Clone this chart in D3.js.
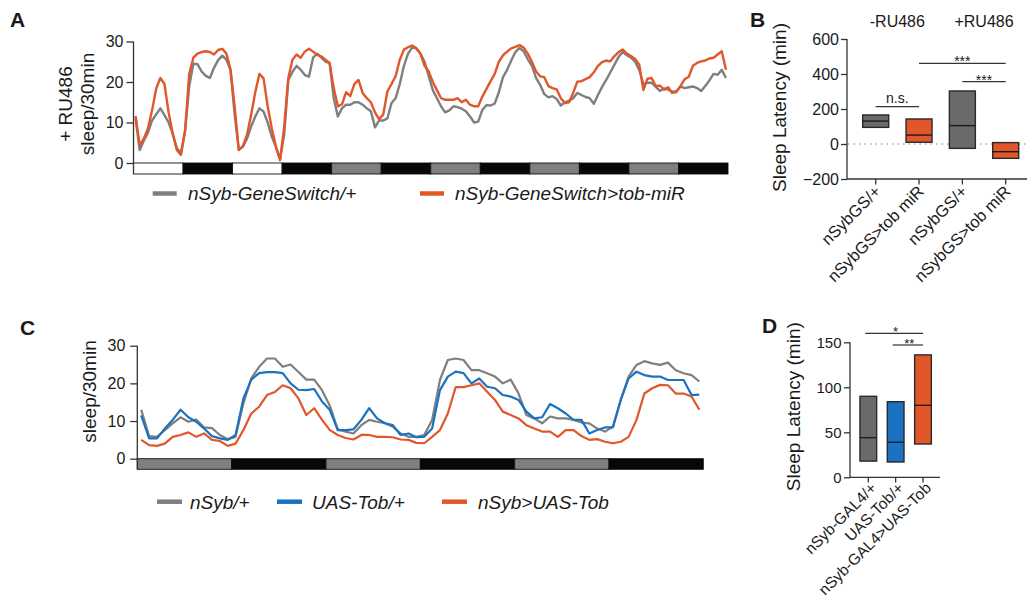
<!DOCTYPE html>
<html><head><meta charset="utf-8">
<script src="https://cdn.jsdelivr.net/npm/d3@7"></script>
<style>
body{margin:0;background:#fff}
svg{display:block}
text{font-family:"Liberation Sans",Arial,sans-serif;fill:#1a1a1a}
</style>
</head><body>
<svg id="chart" width="1029" height="602"></svg>
<script>
// ---------- DATA ----------
// Panel A: hourly sleep (min/30min), 6 days, 12h phases
const phasesA = ["L","D","L","D","S","D","S","D","S","D","S","D"];
const grayA = [
 11,3.2,5.5,7.5,10.5,12,13.5,11.8,10,7.2,3.6,2.5,
 8,19,24.5,24.4,22.6,21.5,21,23.5,25.4,26.5,25.5,23,
 12,3.3,4,6,9,11.5,13.5,12.7,10,6.5,4,1,
 7,20.5,22.5,24,23,21.7,21.3,26,27,26,25,24.7,
 16,11.5,13.5,14.4,14.4,15,15,14.4,13.5,12.8,8.8,10.5,
 10.5,11,14.8,16,19.5,24,27,28.5,28.3,27,25,21.5,
 18,16,14,12.5,13,14,13.8,13.4,12.8,11.5,10,10.2,
 13.1,14.3,14.2,14.7,17.5,21.2,23,25.3,27.4,28.4,27.6,25.6,
 24,21,19.3,17,16.2,16.5,15.8,14.2,15,15.4,16,17.3,
 16.8,16.3,16,14.6,16.8,18.8,20.5,22.4,24.3,26.2,27.4,26.6,
 26,25,23,19.5,19.8,19.8,18.8,17.8,18.4,18.1,17.6,17.7,
 18.9,18.5,18.7,18.9,18.5,17.8,19,20.4,22,21.8,23,21
];
const orangeA = [
 11.6,4.4,6.0,8.5,13,18.4,21,19.5,12.5,7.3,3.2,2.0,
 8,22,26,27,27.4,27.6,27.4,26.8,27.9,28.2,27,23,
 14,3.2,4.2,7,12,17.5,22,20.9,14,8.5,4,0.7,
 9,21,25.5,26.8,26,27.5,28.2,27.5,26.7,26.3,25.5,24.7,
 18.5,14,14.5,17.5,16.5,19.5,20.5,17.3,16,15,12.5,10.8,
 12,17.7,19.5,21.5,25.5,28,28.6,29,28.4,27,24,22.6,
 20,18,16,15.6,15.6,15.6,16,15,15.6,14.4,14,14,
 16.4,18.3,20.2,22,25,26.6,27.5,28.3,28.7,29.1,28.5,27,
 25,22.6,21.4,21.2,19,18.5,18.2,16,14.8,15,17.3,20.1,
 20.2,20.7,21.2,22.4,24,24.9,25.3,25.1,26.4,27.4,28,27,
 26.4,25.7,24.3,18,20.8,21,19,19.1,18.1,18.7,17.3,17.5,
 19,20.7,21.3,24,24.7,25.1,25.3,25.8,26,26.8,27.6,23
];
const legendA = ["nSyb-GeneSwitch/+","nSyb-GeneSwitch>tob-miR"];
const yTicksLine = [0,10,20,30];

// Panel B
const catsB = ["nSybGS/+","nSybGS>tob miR","nSybGS/+","nSybGS>tob miR"];
const lowB = [95,10,-25,-82];
const highB = [166,143,303,8];
const medB = [131,51,105,-44];
const colB = ["gray","orange","gray","orange"];
const groupsB = ["-RU486","+RU486"];
const yTicksB = [-200,0,200,400,600];

// Panel C: hourly sleep, 3 days
const phasesC = ["S","D","S","D","S","D"];
const grayC = [
 13,6,5.8,7.6,9.4,11,9.8,10.4,8.3,8.1,6.3,5.2,
 5.8,14.7,21.3,24.4,26.6,26.6,24.4,25,23,21,21,18.2,
 14,7.8,7.2,6.7,8.9,10.3,9.8,9.4,8.5,6.7,5.8,5.8,
 6.3,10.3,20.9,26.2,26.6,26.2,23.5,23.5,22.7,21.8,20,21,
 17.3,11.6,10.7,9.4,11.2,10.7,10.7,10.3,9.6,9.4,8,7.2,
 8.5,15.6,21.8,24.9,25.9,25.3,24.9,25.5,23.5,22.7,22.2,20.5
];
const blueC = [
 11.5,5.4,5.4,8,10.3,13,11,9.8,8,6,5.4,5,
 6.3,16,21,22.7,23,23,22.7,20,18.3,18.2,18.5,15.2,
 12.9,7.6,7.6,7.8,10.3,13.4,10.7,9.4,8.9,6.3,6.7,5.7,
 5.8,8,18.2,21.8,23.1,22.7,20,21.3,19.1,18.7,16.9,16.5,
 15.6,12.5,10.7,11,14.5,13.4,12,10.3,10.3,6.7,7.6,8.3,
 8.3,15.6,21.3,23.1,22.2,21.8,21.8,20.9,20.9,20.9,16.9,17
];
const orangeC = [
 5,3.6,3.4,4,5.8,6.3,7,5.8,6.7,5,4.7,3.4,
 4,7.6,12,13.8,16.9,17.7,19.5,18.7,16,11.6,13.4,10.3,
 7.6,6.3,5.5,5.1,6.3,6.3,5.8,5.8,5.7,5.1,5,4.2,
 4.1,5.8,7.6,12,19,19,19.5,20,17.8,15.6,12.5,11.6,
 10.7,8.9,8,7.2,7.2,5.8,7.6,7.6,6,5,5.2,4.5,
 4.1,4.5,5.8,10.3,17.3,18.7,19.6,19.5,17.3,17.3,16.5,13
];
const legendC = ["nSyb/+","UAS-Tob/+","nSyb>UAS-Tob"];

// Panel D
const catsD = ["nSyb-GAL4/+","UAS-Tob/+","nSyb-GAL4>UAS-Tob"];
const lowD = [18,17,37];
const highD = [90,84,136];
const medD = [44,39,80];
const colD = ["gray","blue","orange"];
const yTicksD = [0,50,100,150];

// ---------- STYLE ----------
const C = {gray:"#7f7f7f", orange:"#e2572a", blue:"#1a72c0", boxGray:"#6a6a6a", axis:"#333"};
const phaseFill = {L:"#ffffff", D:"#070707", S:"#7f7f7f"};
const svg = d3.select("#chart");

function styleAxis(g, fs){
  g.select(".domain").remove();
  g.selectAll(".tick line").attr("stroke",C.axis).attr("stroke-width",1.3);
  g.selectAll(".tick text").attr("font-size",fs).attr("fill","#1a1a1a")
   .style("font-family","'Liberation Sans',Arial,sans-serif");
}
function panelLabel(t,x,y){
  svg.append("text").attr("x",x).attr("y",y).attr("font-size",21).attr("font-weight","bold").text(t);
}
function rotLabel(lines,x,y,fs){
  lines.forEach(l=>{
    svg.append("text").attr("transform",`translate(${l.x},${y}) rotate(-90)`)
      .attr("text-anchor","middle").attr("font-size",fs).text(l.t);
  });
}

// ---------- PANEL A ----------
(function(){
  const x = d3.scaleLinear().domain([0,144]).range([133.5,728]);
  const y = d3.scaleLinear().domain([0,30]).range([163,41.5]);
  const g = svg.append("g");
  g.selectAll("rect.ph").data(phasesA).join("rect")
    .attr("x",(d,i)=>x(i*12)).attr("y",163).attr("width",x(12)-x(0)).attr("height",11)
    .attr("fill",d=>phaseFill[d]).attr("stroke","#111").attr("stroke-width",0.9);
  const ax = g.append("g").attr("transform","translate(133.5,0)")
    .call(d3.axisLeft(y).tickValues(yTicksLine).tickSize(7).tickPadding(3));
  styleAxis(ax,16);
  g.append("line").attr("x1",133.5).attr("x2",133.5).attr("y1",41.5).attr("y2",174)
    .attr("stroke",C.axis).attr("stroke-width",1.3);
  const line = d3.line().x((d,i)=>x(i+0.5)).y(d=>y(d));
  g.append("path").datum(grayA).attr("d",line).attr("fill","none").attr("stroke",C.gray).attr("stroke-width",2.4).attr("stroke-linejoin","round");
  g.append("path").datum(orangeA).attr("d",line).attr("fill","none").attr("stroke",C.orange).attr("stroke-width",2.4).attr("stroke-linejoin","round");
  const lg = [{x1:152.7,tx:188,c:C.gray},{x1:420,tx:455,c:C.orange}];
  lg.forEach((l,i)=>{
    g.append("line").attr("x1",l.x1).attr("x2",l.x1+24).attr("y1",193.5).attr("y2",193.5)
      .attr("stroke",l.c).attr("stroke-width",4.5);
    g.append("text").attr("x",l.tx).attr("y",200).attr("font-size",19).attr("font-style","italic").text(legendA[i]);
  });
  rotLabel([{x:71.5,t:"+ RU486"},{x:94,t:"sleep/30min"}],0,104,19);
  panelLabel("A",10,27);
})();

// ---------- PANEL B ----------
(function(){
  const x = d3.scalePoint().domain(d3.range(catsB.length)).range([875.7,1005.7]);
  const y = d3.scaleLinear().domain([-200,600]).range([179,39]);
  const bw = 26;
  const g = svg.append("g");
  const ax = g.append("g").attr("transform","translate(847,0)")
    .call(d3.axisLeft(y).tickValues(yTicksB).tickSize(6).tickPadding(2));
  styleAxis(ax,16);
  g.append("line").attr("x1",847).attr("x2",847).attr("y1",39).attr("y2",179).attr("stroke",C.axis).attr("stroke-width",1.3);
  g.append("line").attr("x1",847).attr("x2",1027).attr("y1",179).attr("y2",179).attr("stroke",C.axis).attr("stroke-width",1.3);
  g.selectAll("line.xt").data(catsB).join("line")
    .attr("x1",(d,i)=>x(i)).attr("x2",(d,i)=>x(i)).attr("y1",179).attr("y2",184.5)
    .attr("stroke",C.axis).attr("stroke-width",1.3);
  g.append("line").attr("x1",848).attr("x2",1029).attr("y1",y(0)).attr("y2",y(0))
    .attr("stroke","#777").attr("stroke-width",1.1).attr("stroke-dasharray","1.5,4");
  catsB.forEach((c,i)=>{
    g.append("rect").attr("x",x(i)-bw/2).attr("width",bw).attr("y",y(highB[i])).attr("height",y(lowB[i])-y(highB[i]))
      .attr("fill",colB[i]==="gray"?C.boxGray:C.orange).attr("stroke","#2a2a2a").attr("stroke-width",1.4);
    g.append("line").attr("x1",x(i)-bw/2).attr("x2",x(i)+bw/2).attr("y1",y(medB[i])).attr("y2",y(medB[i]))
      .attr("stroke","#1a1a1a").attr("stroke-width",1.4);
    g.append("text").attr("transform",`translate(${x(i)+6},192.5) rotate(-45)`)
      .attr("text-anchor","end").attr("font-size",16.5).text(c);
  });
  [[0,1],[2,3]].forEach((p,k)=>{
    g.append("text").attr("x",(x(p[0])+x(p[1]))/2).attr("y",27).attr("text-anchor","middle")
      .attr("font-size",16).text(groupsB[k]);
  });
  const sig = [{a:0,b:1,yv:106.7,t:"n.s.",ty:103},{a:1,b:3,yv:63.3,t:"***",ty:66},{a:2,b:3,yv:81.7,t:"***",ty:84.5}];
  sig.forEach(s=>{
    g.append("line").attr("x1",x(s.a)).attr("x2",x(s.b)).attr("y1",s.yv).attr("y2",s.yv).attr("stroke","#333").attr("stroke-width",1.2);
    g.append("text").attr("x",(x(s.a)+x(s.b))/2).attr("y",s.ty).attr("text-anchor","middle").attr("font-size",14).text(s.t);
  });
  rotLabel([{x:786,t:"Sleep Latency (min)"}],0,107.5,19);
  panelLabel("B",750,27);
})();

// ---------- PANEL C ----------
(function(){
  const x = d3.scaleLinear().domain([0,72]).range([137.3,703.3]);
  const y = d3.scaleLinear().domain([0,30]).range([458.7,345.7]);
  const g = svg.append("g");
  g.selectAll("rect.ph").data(phasesC).join("rect")
    .attr("x",(d,i)=>x(i*12)).attr("y",458.7).attr("width",x(12)-x(0)).attr("height",10.6)
    .attr("fill",d=>phaseFill[d]).attr("stroke","#111").attr("stroke-width",0.9);
  const ax = g.append("g").attr("transform","translate(137.3,0)")
    .call(d3.axisLeft(y).tickValues(yTicksLine).tickSize(7).tickPadding(5));
  styleAxis(ax,16);
  g.append("line").attr("x1",137.3).attr("x2",137.3).attr("y1",345.7).attr("y2",469.3).attr("stroke",C.axis).attr("stroke-width",1.3);
  const line = d3.line().x((d,i)=>x(i+0.5)).y(d=>y(d));
  [[grayC,C.gray],[blueC,C.blue],[orangeC,C.orange]].forEach(s=>{
    g.append("path").datum(s[0]).attr("d",line).attr("fill","none").attr("stroke",s[1]).attr("stroke-width",2.2).attr("stroke-linejoin","round");
  });
  const lg = [{x1:157,tx:190,c:C.gray},{x1:277,tx:312,c:C.blue},{x1:442,tx:478,c:C.orange}];
  lg.forEach((l,i)=>{
    g.append("line").attr("x1",l.x1).attr("x2",l.x1+25).attr("y1",501.7).attr("y2",501.7).attr("stroke",l.c).attr("stroke-width",4.5);
    g.append("text").attr("x",l.tx).attr("y",508.5).attr("font-size",19).attr("font-style","italic").text(legendC[i]);
  });
  rotLabel([{x:96,t:"sleep/30min"}],0,391.5,19);
  panelLabel("C",20,335);
})();

// ---------- PANEL D ----------
(function(){
  const x = d3.scalePoint().domain(d3.range(catsD.length)).range([868.3,923]);
  const y = d3.scaleLinear().domain([0,150]).range([477.3,342.3]);
  const bw = 16.7;
  const g = svg.append("g");
  const ax = g.append("g").attr("transform","translate(850,0)")
    .call(d3.axisLeft(y).tickValues(yTicksD).tickSize(6).tickPadding(2.5));
  styleAxis(ax,15);
  g.append("line").attr("x1",850).attr("x2",850).attr("y1",342.3).attr("y2",477.3).attr("stroke",C.axis).attr("stroke-width",1.3);
  g.append("line").attr("x1",850).attr("x2",940).attr("y1",477.3).attr("y2",477.3).attr("stroke",C.axis).attr("stroke-width",1.3);
  g.selectAll("line.xt").data(catsD).join("line")
    .attr("x1",(d,i)=>x(i)).attr("x2",(d,i)=>x(i)).attr("y1",477.3).attr("y2",482.5)
    .attr("stroke",C.axis).attr("stroke-width",1.3);
  const fills = {gray:C.boxGray, blue:C.blue, orange:C.orange};
  catsD.forEach((c,i)=>{
    g.append("rect").attr("x",x(i)-bw/2).attr("width",bw).attr("y",y(highD[i])).attr("height",y(lowD[i])-y(highD[i]))
      .attr("fill",fills[colD[i]]).attr("stroke","#2a2a2a").attr("stroke-width",1.4);
    g.append("line").attr("x1",x(i)-bw/2).attr("x2",x(i)+bw/2).attr("y1",y(medD[i])).attr("y2",y(medD[i]))
      .attr("stroke","#1a1a1a").attr("stroke-width",1.3);
    g.append("text").attr("transform",`translate(${x(i)+9},489) rotate(-45)`)
      .attr("text-anchor","end").attr("font-size",15.5).text(c);
  });
  const sig = [{a:0,b:2,yv:333.3,t:"*",ty:336},{a:1,b:2,yv:345,t:"**",ty:347.5}];
  sig.forEach(s=>{
    g.append("line").attr("x1",x(s.a)-3).attr("x2",x(s.b)).attr("y1",s.yv).attr("y2",s.yv).attr("stroke","#333").attr("stroke-width",1.2);
    g.append("text").attr("x",(x(s.a)+x(s.b))/2).attr("y",s.ty).attr("text-anchor","middle").attr("font-size",13).text(s.t);
  });
  rotLabel([{x:799.5,t:"Sleep Latency (min)"}],0,406.7,19);
  panelLabel("D",762,333);
})();
</script>
</body></html>
